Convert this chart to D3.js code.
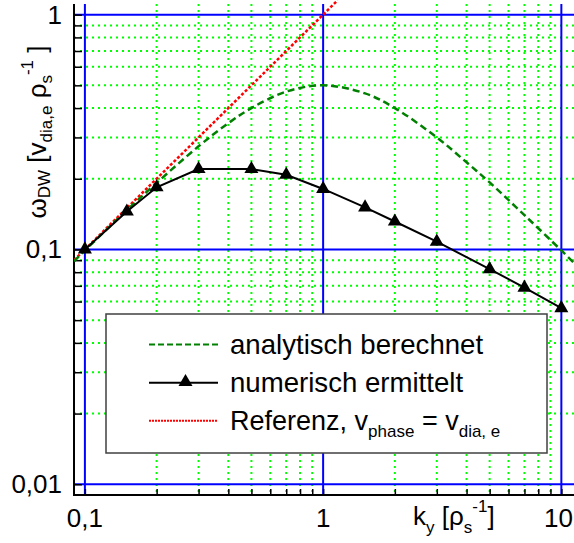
<!DOCTYPE html>
<html>
<head>
<meta charset="utf-8">
<script src="https://cdn.jsdelivr.net/npm/d3@7"></script>
<style>
  html, body { margin: 0; padding: 0; background: #fff; }
  svg { display: block; font-family: "Liberation Sans", Arial, sans-serif; }
</style>
</head>
<body>
<svg id="chart" width="574" height="543"></svg>
<script>
// Numerically determined drift-wave frequency (triangles)
const kNum     = [0.1, 0.15, 0.2, 0.3, 0.5, 0.7, 1.0, 1.5, 2.0, 3.0, 5.0, 7.0, 10.0];
const omegaNum = [0.1, 0.145, 0.184, 0.22, 0.22, 0.208, 0.181, 0.151, 0.1315, 0.108, 0.0824, 0.0688, 0.0562];

// Analytically computed curve (dashed green)
const kAna     = [0.09, 0.1, 0.15, 0.2, 0.3, 0.4, 0.5, 0.7, 1.0, 1.5, 2.0, 3.0, 4.0, 5.0, 7.0, 10.0, 11.5];
const omegaAna = [0.089, 0.099, 0.147, 0.192, 0.275, 0.345, 0.40, 0.47, 0.50, 0.462, 0.40, 0.30, 0.235, 0.193, 0.14, 0.099, 0.086];

// Reference line v_phase = v_dia,e (dotted red)
const kRef     = [0.09, 1.15];
const omegaRef = [0.09, 1.15];

// Axis ticks and labels
const xMajor = [0.1, 1, 10];
const xMajorLabels = ["0,1", "1", "10"];
const xMinor = [0.2, 0.3, 0.4, 0.5, 0.6, 0.7, 0.8, 0.9, 2, 3, 4, 5, 6, 7, 8, 9];
const yMajor = [0.01, 0.1, 1];
const yMajorLabels = ["0,01", "0,1", "1"];
const yMinor = [0.02, 0.03, 0.04, 0.05, 0.06, 0.07, 0.08, 0.09, 0.2, 0.3, 0.4, 0.5, 0.6, 0.7, 0.8, 0.9];

const legendLabels = ["analytisch berechnet", "numerisch ermittelt"];

const svg = d3.select("#chart");
const L = 74, R = 574, T = 4, B = 495;

const x = d3.scaleLog().domain([0.09, 11.3]).range([L, R]);
const y = d3.scaleLog().domain([0.009, 1.11]).range([B, T]);

svg.append("defs").append("clipPath").attr("id", "plotclip")
  .append("rect").attr("x", L).attr("y", 0).attr("width", R - L).attr("height", B);

// Minor grid (green dotted)
const grid = svg.append("g");
grid.selectAll(".gx").data(xMinor).join("line")
  .attr("x1", d => x(d)).attr("x2", d => x(d)).attr("y1", T).attr("y2", B)
  .attr("stroke", "#00ff00").attr("stroke-width", 2).attr("stroke-dasharray", "2,4");
grid.selectAll(".gy").data(yMinor).join("line")
  .attr("x1", L).attr("x2", R).attr("y1", d => y(d)).attr("y2", d => y(d))
  .attr("stroke", "#00ff00").attr("stroke-width", 2).attr("stroke-dasharray", "2,4");

// Major grid (solid blue)
grid.selectAll(".bx").data(xMajor).join("line")
  .attr("x1", d => x(d)).attr("x2", d => x(d)).attr("y1", T).attr("y2", B)
  .attr("stroke", "#0000ff").attr("stroke-width", 2);
grid.selectAll(".by").data(yMajor).join("line")
  .attr("x1", L).attr("x2", R).attr("y1", d => y(d)).attr("y2", d => y(d))
  .attr("stroke", "#0000ff").attr("stroke-width", 2);

// Axes with inward ticks
const xAxis = d3.axisBottom(x).tickValues(xMinor.concat(xMajor)).tickSize(-6).tickFormat("");
const yAxis = d3.axisLeft(y).tickValues(yMinor.concat(yMajor)).tickSize(-8).tickFormat("");
const gx = svg.append("g").attr("transform", `translate(0,${B})`).call(xAxis);
const gy = svg.append("g").attr("transform", `translate(${L},0)`).call(yAxis);
[gx, gy].forEach(g => {
  g.select(".domain").remove();
  g.selectAll(".tick line").attr("stroke", "#000").attr("stroke-width", 1.5);
});
svg.append("line").attr("x1", L).attr("x2", L).attr("y1", T).attr("y2", B + 1)
  .attr("stroke", "#000").attr("stroke-width", 2);
svg.append("line").attr("x1", L - 1).attr("x2", R).attr("y1", B).attr("y2", B)
  .attr("stroke", "#000").attr("stroke-width", 2);

// Tick labels (the last x label is kept inside the right edge)
svg.append("g").selectAll("text").data(xMajor).join("text")
  .attr("x", (d, i) => i === xMajor.length - 1 ? 573 : x(d))
  .attr("y", 527)
  .attr("text-anchor", (d, i) => i === xMajor.length - 1 ? "end" : "middle")
  .attr("font-size", 26).text((d, i) => xMajorLabels[i]);
svg.append("g").selectAll("text").data(yMajor).join("text")
  .attr("x", 62).attr("y", d => y(d) + 9).attr("text-anchor", "end")
  .attr("font-size", 26).text((d, i) => yMajorLabels[i]);

// Curves
const plot = svg.append("g").attr("clip-path", "url(#plotclip)");
const lineGen = d3.line().x(d => x(d[0])).y(d => y(d[1]));

plot.append("path")
  .datum(kRef.map((k, i) => [k, omegaRef[i]]))
  .attr("d", lineGen).attr("fill", "none")
  .attr("stroke", "#ff0000").attr("stroke-width", 2.5).attr("stroke-dasharray", "3,2");

plot.append("path")
  .datum(kAna.map((k, i) => [k, omegaAna[i]]))
  .attr("d", lineGen.curve(d3.curveCatmullRom)).attr("fill", "none")
  .attr("stroke", "#008000").attr("stroke-width", 2.5).attr("stroke-dasharray", "7,4");

const numLine = d3.line().x(d => x(d[0])).y(d => y(d[1]));
const numData = kNum.map((k, i) => [k, omegaNum[i]]);
plot.append("path").datum(numData).attr("d", numLine).attr("fill", "none")
  .attr("stroke", "#000").attr("stroke-width", 2);

const tri = d3.symbol().type(d3.symbolTriangle).size(85);
svg.append("g").selectAll("path").data(numData).join("path")
  .attr("transform", d => `translate(${x(d[0])},${y(d[1])})`)
  .attr("d", tri).attr("fill", "#000");

// Legend
const lg = svg.append("g");
lg.append("rect").attr("x", 106).attr("y", 314).attr("width", 441).attr("height", 139)
  .attr("fill", "#fff").attr("stroke", "#404040").attr("stroke-width", 1.5);
const lx1 = 149, lx2 = 218, tx = 230;
lg.append("line").attr("x1", lx1).attr("x2", lx2).attr("y1", 344.5).attr("y2", 344.5)
  .attr("stroke", "#008000").attr("stroke-width", 2).attr("stroke-dasharray", "6,3");
lg.append("line").attr("x1", lx1).attr("x2", lx2).attr("y1", 382.7).attr("y2", 382.7)
  .attr("stroke", "#000").attr("stroke-width", 2);
lg.append("path").attr("transform", `translate(${(lx1 + lx2) / 2 + 2},382)`).attr("d", tri).attr("fill", "#000");
lg.append("line").attr("x1", lx1).attr("x2", lx2).attr("y1", 420.7).attr("y2", 420.7)
  .attr("stroke", "#ff0000").attr("stroke-width", 2).attr("stroke-dasharray", "2,1");

lg.append("text").attr("x", tx).attr("y", 354.3).attr("font-size", 27.6).text(legendLabels[0]);
lg.append("text").attr("x", tx).attr("y", 392.3).attr("font-size", 27.6).text(legendLabels[1]);
const t3 = lg.append("text").attr("x", tx).attr("y", 430).attr("font-size", 27);
t3.append("tspan").text("Referenz, v");
t3.append("tspan").attr("font-size", 17).attr("dy", 7).text("phase");
t3.append("tspan").attr("dy", -7).text(" = v");
t3.append("tspan").attr("font-size", 17).attr("dy", 7).text("dia, e");

// Axis titles
const xl = svg.append("text").attr("x", 413).attr("y", 525).attr("font-size", 26);
xl.append("tspan").text("k");
xl.append("tspan").attr("font-size", 17).attr("dy", 8).text("y");
xl.append("tspan").attr("dy", -8).text(" [ρ");
xl.append("tspan").attr("font-size", 17).attr("dy", 8).text("s");
xl.append("tspan").attr("font-size", 17).attr("dy", -21).text("-1");
xl.append("tspan").attr("dy", 13).text("]");

const yl = svg.append("text").attr("transform", "translate(46,132) rotate(-90)")
  .attr("text-anchor", "middle").attr("font-size", 26);
yl.append("tspan").text("ω");
yl.append("tspan").attr("font-size", 17).attr("dy", 4).text("DW");
yl.append("tspan").attr("dy", -4).text(" [v");
yl.append("tspan").attr("font-size", 17).attr("dy", 6).text("dia,e");
yl.append("tspan").attr("dy", -6).text(" ρ");
yl.append("tspan").attr("font-size", 17).attr("dy", 6).text("s");
yl.append("tspan").attr("font-size", 17).attr("dy", -19).text("-1");
yl.append("tspan").attr("dy", 13).text(" ]");
</script>
</body>
</html>
